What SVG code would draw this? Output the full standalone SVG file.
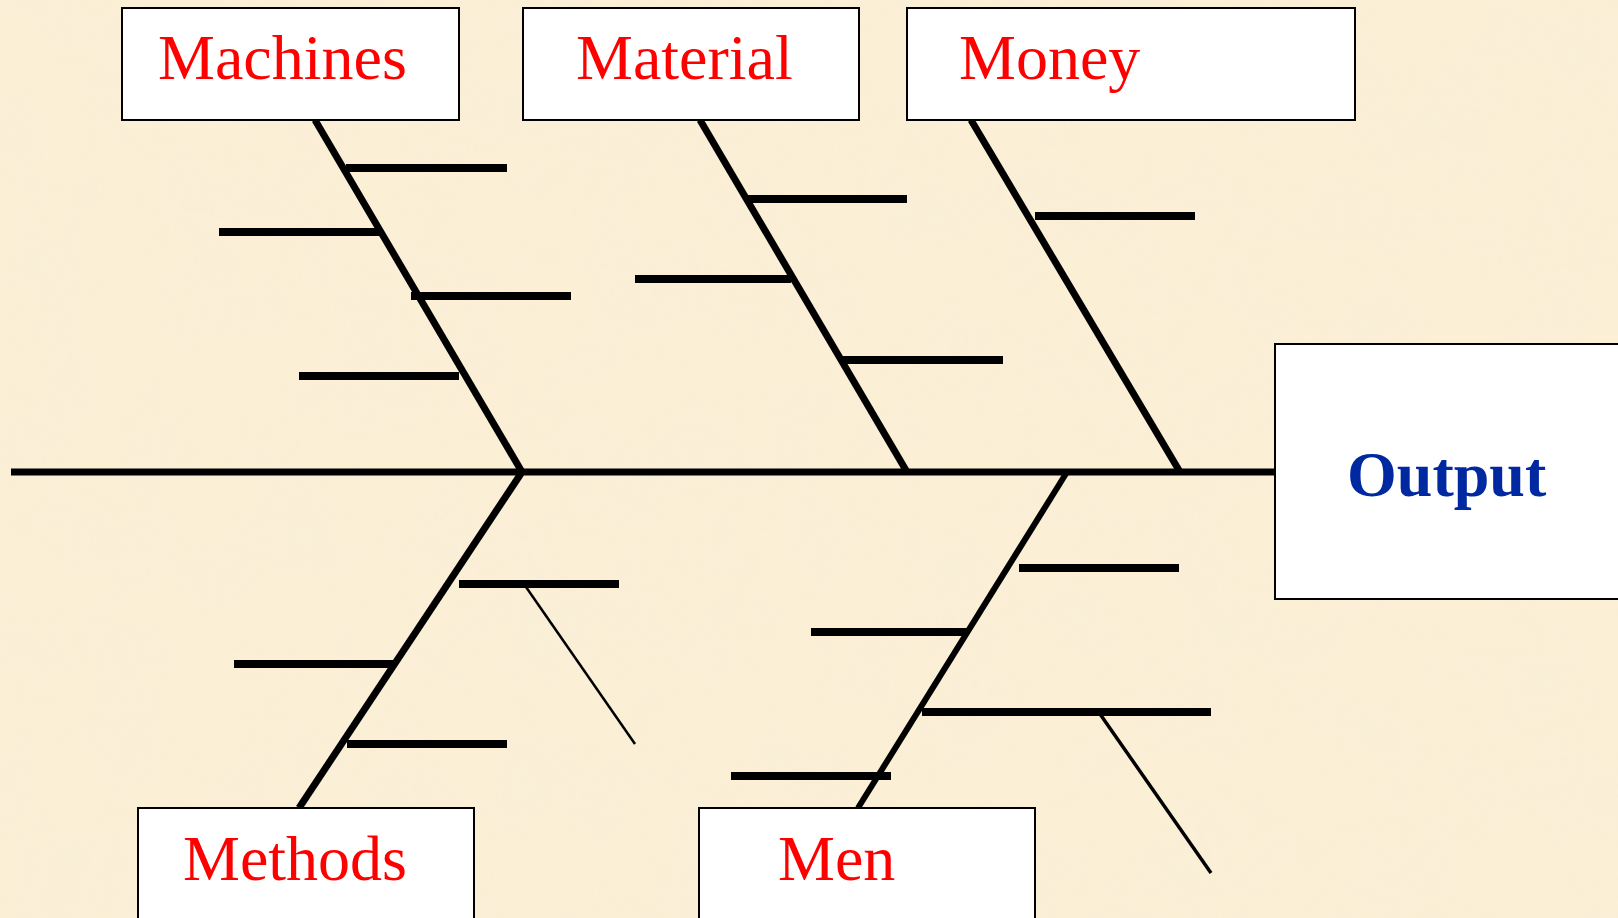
<svg xmlns="http://www.w3.org/2000/svg" width="1618" height="918" viewBox="0 0 1618 918">
<defs>
<filter id="parch" x="0" y="0" width="100%" height="100%">
<feTurbulence type="fractalNoise" baseFrequency="0.012" numOctaves="3" seed="7" result="n"/>
<feColorMatrix in="n" type="matrix" values="0 0 0 0 0.93  0 0 0 0 0.86  0 0 0 0 0.70  0 0 0 0.9 -0.3" result="c"/>
<feComposite in="c" in2="SourceGraphic" operator="in"/>
</filter>
<style>
.box{fill:#ffffff;stroke:#000000;stroke-width:2}
.lbl{font-family:"Liberation Serif","Times New Roman",serif;font-size:64px;fill:#ff0000}
.out{font-family:"Liberation Serif","Times New Roman",serif;font-size:64px;font-weight:bold;fill:#0028a0}
.bone{stroke:#000000;stroke-width:7;fill:none}
.rib{stroke:#000000;stroke-width:8;fill:none}
.thin{stroke:#000000;stroke-width:2.5;fill:none}
</style>
</defs>
<rect x="0" y="0" width="1618" height="918" fill="#fbefd6"/>
<rect x="0" y="0" width="1618" height="918" fill="#fbefd6" filter="url(#parch)" opacity="0.5"/>

<g id="connectors">
<line class="bone" x1="11" y1="472" x2="1275" y2="472"/>
<!-- Machines -->
<line class="bone" x1="315" y1="120" x2="522" y2="472"/>
<line class="rib" x1="346" y1="168" x2="507" y2="168"/>
<line class="rib" x1="219" y1="232" x2="379" y2="232"/>
<line class="rib" x1="411" y1="296" x2="571" y2="296"/>
<line class="rib" x1="299" y1="376" x2="459" y2="376"/>
<!-- Material -->
<line class="bone" x1="700" y1="120" x2="907" y2="472"/>
<line class="rib" x1="748" y1="199" x2="907" y2="199"/>
<line class="rib" x1="635" y1="279" x2="791" y2="279"/>
<line class="rib" x1="841" y1="360" x2="1003" y2="360"/>
<!-- Money -->
<line class="bone" x1="971" y1="120" x2="1180" y2="472"/>
<line class="rib" x1="1035" y1="216" x2="1195" y2="216"/>
<!-- Methods -->
<line class="bone" x1="522" y1="472" x2="299" y2="808"/>
<line class="rib" x1="459" y1="584" x2="619" y2="584"/>
<line class="rib" x1="234" y1="664" x2="393" y2="664"/>
<line class="rib" x1="347" y1="744" x2="507" y2="744"/>
<line class="thin" x1="526" y1="587" x2="635" y2="744"/>
<!-- Men -->
<line class="bone" x1="1067" y1="472" x2="858" y2="808" style="stroke-width:6"/>
<line class="rib" x1="1019" y1="568" x2="1179" y2="568"/>
<line class="rib" x1="811" y1="632" x2="967" y2="632"/>
<line class="rib" x1="922" y1="712" x2="1211" y2="712"/>
<line class="rib" x1="731" y1="776" x2="891" y2="776"/>
<line class="thin" x1="1100" y1="714" x2="1211" y2="873" style="stroke-width:3.5"/>
</g>

<g id="machines">
<rect class="box" x="122" y="8" width="337" height="112"/>
<text class="lbl" x="158" y="79">Machines</text>
</g>
<g id="material">
<rect class="box" x="523" y="8" width="336" height="112"/>
<text class="lbl" x="576" y="79">Material</text>
</g>
<g id="money">
<rect class="box" x="907" y="8" width="448" height="112"/>
<text class="lbl" x="959" y="79">Money</text>
</g>
<g id="output">
<rect class="box" x="1275" y="344" width="360" height="255"/>
<text class="out" x="1347" y="496">Output</text>
</g>
<g id="methods">
<rect class="box" x="138" y="808" width="336" height="130"/>
<text class="lbl" x="183" y="880">Methods</text>
</g>
<g id="men">
<rect class="box" x="699" y="808" width="336" height="130"/>
<text class="lbl" x="778" y="880">Men</text>
</g>
</svg>
